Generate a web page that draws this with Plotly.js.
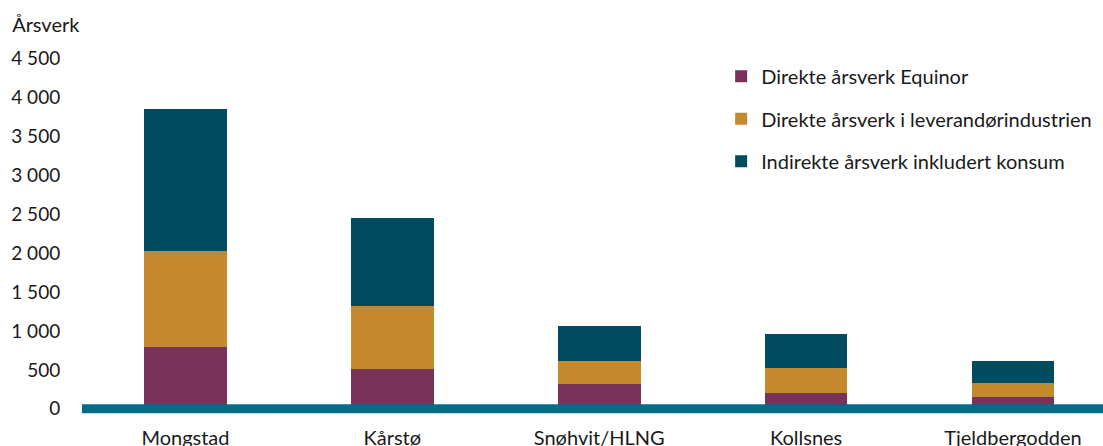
<!DOCTYPE html>
<html>
<head>
<meta charset="utf-8">
<script src="https://cdn.plot.ly/plotly-3.0.1.min.js"></script>
<style>html,body{margin:0;padding:0;background:#fff;}#chart{width:1103px;height:446px;}</style>
</head>
<body>
<div id="chart"></div>
<script>
const categories = ["Mongstad", "Kårstø", "Snøhvit/HLNG", "Kollsnes", "Tjeldbergodden"];
const seriesNames = ["Direkte årsverk Equinor", "Direkte årsverk i leverandørindustrien", "Indirekte årsverk inkludert konsum"];
const equinor = [800, 512, 315, 199, 152];
const leverandor = [1224, 809, 299, 325, 180];
const indirekte = [1835, 1128, 455, 442, 287];
const tickValues = [0, 500, 1000, 1500, 2000, 2500, 3000, 3500, 4000, 4500];
const tickLabels = ["0", "500", "1 000", "1 500", "2 000", "2 500", "3 000", "3 500", "4 000", "4 500"];
const colors = ["#7a3358", "#c4892d", "#004c5e"];

const FONT = "Lato, 'Open Sans', sans-serif";
const dataSets = [equinor, leverandor, indirekte];
const traces = dataSets.map((vals, i) => ({
  type: "bar",
  name: seriesNames[i],
  x: categories,
  y: vals,
  legendgroup: "g" + i,
  marker: {color: colors[i], line: {width: 0}},
  hoverinfo: "x+y+name"
}));

const layout = {
  width: 1103,
  height: 446,
  barmode: "stack",
  bargap: 0.6,
  paper_bgcolor: "#ffffff",
  plot_bgcolor: "#ffffff",
  margin: {l: 82, r: 0, t: 51, b: 31, pad: 0},
  font: {family: FONT, size: 19, color: "#1a1a1a"},
  title: {
    text: "Årsverk",
    x: 0.011, xanchor: "left", xref: "container",
    y: 0.944, yanchor: "middle", yref: "container",
    font: {family: FONT, size: 20, color: "#1a1a1a"}
  },
  xaxis: {
    type: "category",
    range: [-0.5, 4.435],
    showgrid: false,
    zeroline: false,
    showline: false,
    ticks: "outside",
    ticklen: 5,
    tickcolor: "rgba(0,0,0,0)",
    tickfont: {family: FONT, size: 20, color: "#1a1a1a"},
    fixedrange: true
  },
  yaxis: {
    range: [-80, 4600],
    tickmode: "array",
    tickvals: tickValues,
    ticktext: tickLabels,
    showgrid: false,
    zeroline: false,
    showline: false,
    ticks: "outside",
    ticklen: 17,
    tickcolor: "rgba(0,0,0,0)",
    tickfont: {family: FONT, size: 19, color: "#1a1a1a"},
    fixedrange: true
  },
  shapes: [{
    type: "line",
    xref: "paper", x0: 0, x1: 1,
    yref: "y", y0: 0, y1: 0,
    line: {color: "#036c87", width: 9},
    layer: "above"
  }],
  legend: {
    x: 0.626, xanchor: "left",
    y: 0.984, yanchor: "top",
    traceorder: "grouped",
    tracegroupgap: 13.5,
    bgcolor: "rgba(0,0,0,0)",
    font: {family: FONT, size: 20, color: "#1a1a1a"}
  },
  showlegend: true
};

Plotly.newPlot("chart", traces, layout, {displayModeBar: false, staticPlot: true});
</script>
</body>
</html>
